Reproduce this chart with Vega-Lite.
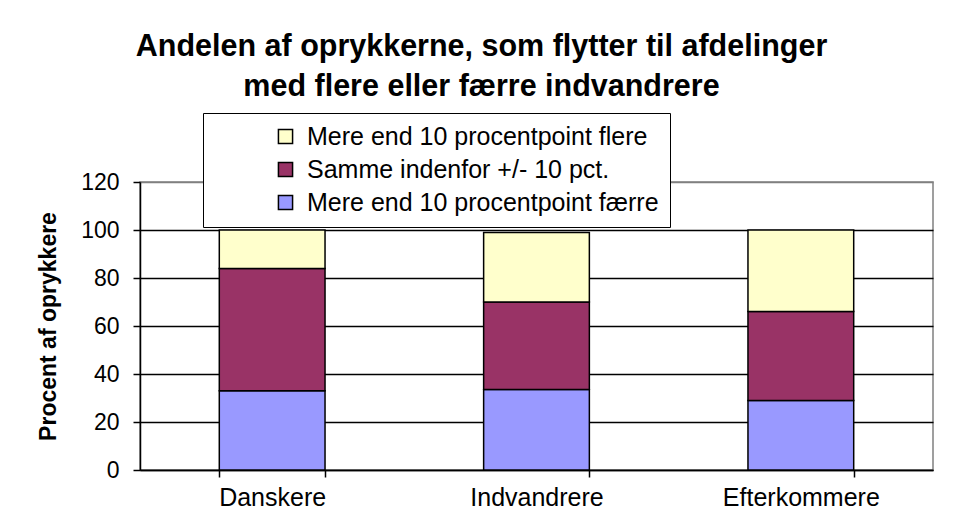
{
  "$schema": "https://vega.github.io/schema/vega-lite/v6.json",
  "autosize": {"type": "none"},
  "padding": {"left": 140, "top": 182, "right": 23, "bottom": 47},
  "width": 793,
  "height": 288,
  "background": "white",
  "title": {
    "text": ["Andelen af oprykkerne, som flytter til afdelinger", "med flere eller færre indvandrere"],
    "font": "Liberation Sans",
    "fontSize": 30.5,
    "fontWeight": "bold",
    "color": "black",
    "anchor": "middle",
    "frame": "group",
    "dx": -55,
    "lineHeight": 40,
    "offset": 10
  },
  "config": {
    "font": "Liberation Sans",
    "view": {"stroke": "#808080", "strokeWidth": 1.5}
  },
  "data": {
    "values": [
      {"gruppe": "Danskere", "kategori": "Mere end 10 procentpoint færre", "rang": 1, "procent": 33},
      {"gruppe": "Danskere", "kategori": "Samme indenfor +/- 10 pct.", "rang": 2, "procent": 51},
      {"gruppe": "Danskere", "kategori": "Mere end 10 procentpoint flere", "rang": 3, "procent": 16},
      {"gruppe": "Indvandrere", "kategori": "Mere end 10 procentpoint færre", "rang": 1, "procent": 33.5},
      {"gruppe": "Indvandrere", "kategori": "Samme indenfor +/- 10 pct.", "rang": 2, "procent": 36.5},
      {"gruppe": "Indvandrere", "kategori": "Mere end 10 procentpoint flere", "rang": 3, "procent": 29},
      {"gruppe": "Efterkommere", "kategori": "Mere end 10 procentpoint færre", "rang": 1, "procent": 29},
      {"gruppe": "Efterkommere", "kategori": "Samme indenfor +/- 10 pct.", "rang": 2, "procent": 37},
      {"gruppe": "Efterkommere", "kategori": "Mere end 10 procentpoint flere", "rang": 3, "procent": 34}
    ]
  },
  "mark": {"type": "bar", "stroke": "black", "strokeWidth": 1.5},
  "encoding": {
    "x": {
      "field": "gruppe",
      "type": "nominal",
      "sort": ["Danskere", "Indvandrere", "Efterkommere"],
      "scale": {"paddingInner": 0.6, "paddingOuter": 0.3},
      "axis": {
        "title": null,
        "labelAngle": 0,
        "labelFontSize": 25,
        "labelColor": "black",
        "labelPadding": 8,
        "tickBand": "extent",
        "tickSize": 7,
        "tickColor": "black",
        "tickWidth": 1.5,
        "domainColor": "black",
        "domainWidth": 1.5,
        "grid": false
      }
    },
    "y": {
      "field": "procent",
      "type": "quantitative",
      "stack": "zero",
      "scale": {"domain": [0, 120], "nice": false},
      "axis": {
        "title": "Procent af oprykkere",
        "titleFontSize": 23,
        "titleFontWeight": "bold",
        "titleColor": "black",
        "titlePadding": 20,
        "values": [0, 20, 40, 60, 80, 100, 120],
        "labelFontSize": 23,
        "labelColor": "black",
        "labelPadding": 14,
        "tickSize": 7,
        "tickColor": "black",
        "tickWidth": 1.5,
        "domainColor": "black",
        "domainWidth": 1.5,
        "grid": true,
        "gridColor": {"condition": {"test": "datum.value === 120", "value": "#808080"}, "value": "black"},
        "gridWidth": 1.5,
        "gridOpacity": 1
      }
    },
    "color": {
      "field": "kategori",
      "type": "nominal",
      "scale": {
        "domain": ["Mere end 10 procentpoint færre", "Samme indenfor +/- 10 pct.", "Mere end 10 procentpoint flere"],
        "range": ["#9999FF", "#993366", "#FFFFCC"]
      },
      "legend": {
        "title": null,
        "orient": "none",
        "legendX": 63,
        "legendY": -69,
        "values": ["Mere end 10 procentpoint flere", "Samme indenfor +/- 10 pct.", "Mere end 10 procentpoint færre"],
        "fillColor": "white",
        "strokeColor": "black",
        "padding": 11,
        "symbolOffset": 59,
        "symbolType": "square",
        "symbolSize": 200,
        "symbolStrokeColor": "black",
        "symbolStrokeWidth": 1.5,
        "symbolOpacity": 1,
        "labelFontSize": 25,
        "labelColor": "black",
        "labelOffset": 9,
        "labelLimit": 500,
        "rowPadding": 7
      }
    },
    "order": {"field": "rang", "type": "quantitative", "sort": "ascending"}
  }
}
